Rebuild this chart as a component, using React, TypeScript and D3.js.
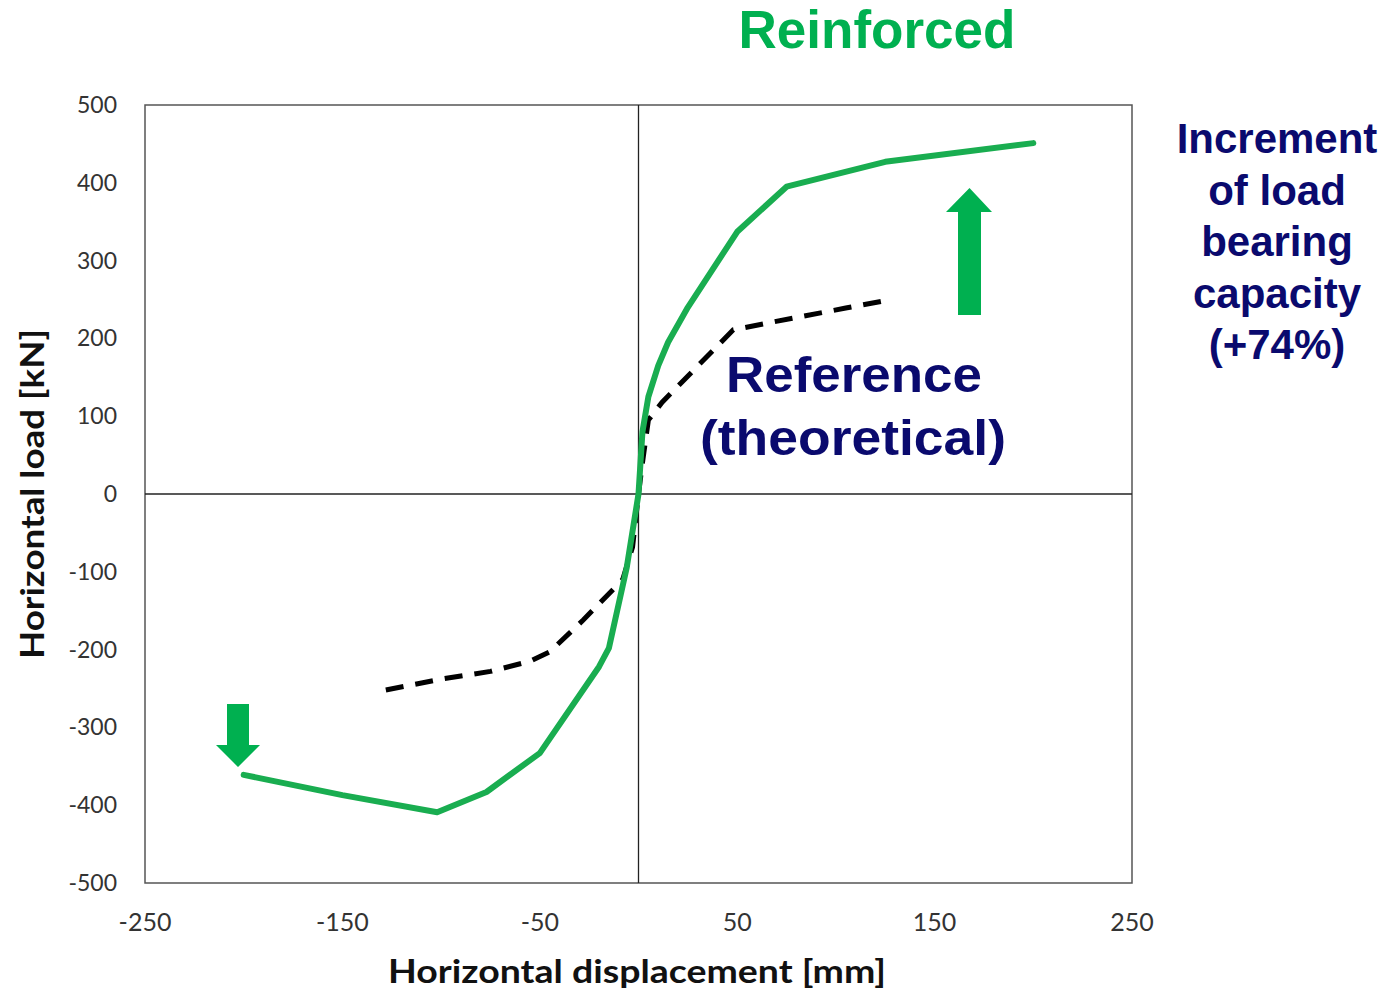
import React from "react";
import * as d3 from "d3";

const reinforcedX = [-200, -150, -102, -77, -50, -20, -15, -6, 0, 2, 5, 10, 15, 25, 50, 75, 125, 200];
const reinforcedY = [-361, -387, -409, -383, -333, -222, -198, -95, 0, 80, 125, 165, 195, 240, 337, 395, 427, 451];
const referenceX = [-128, -100, -75, -55, -45, -28, -8, -3, 0, 2, 5, 12, 48, 68, 105, 128];
const referenceY = [-252, -238, -228, -215, -203, -162, -110, -68, 0, 40, 95, 118, 211, 221, 239, 250];
const xTicks = [-250, -150, -50, 50, 150, 250];
const yTicks = [-500, -400, -300, -200, -100, 0, 100, 200, 300, 400, 500];
const noteLines = ["Increment", "of load", "bearing", "capacity", "(+74%)"];

const W = 1391, H = 992;
const M = { left: 145, right: 1132, top: 105, bottom: 883 };

export default function App() {
  const x = d3.scaleLinear().domain([-250, 250]).range([M.left, M.right]);
  const y = d3.scaleLinear().domain([-500, 500]).range([M.bottom, M.top]);
  const line = d3.line<[number, number]>().x(d => x(d[0])).y(d => y(d[1]));
  const green = "#19AD50";
  const navy = "#0A0A6E";
  const reinf: [number, number][] = reinforcedX.map((v, i) => [v, reinforcedY[i]]);
  const ref: [number, number][] = referenceX.map((v, i) => [v, referenceY[i]]);
  const tickFont = "Lato, 'Open Sans', sans-serif";
  const boldFont = "'Liberation Sans', Arial, sans-serif";
  return (
    <svg width={W} height={H} style={{ position: "absolute", left: 0, top: 0, background: "#fff" }}>
      <rect x={M.left} y={M.top} width={M.right - M.left} height={M.bottom - M.top} fill="none" stroke="#555" strokeWidth={1.5} />
      <line x1={x(0)} x2={x(0)} y1={M.top} y2={M.bottom} stroke="#222" strokeWidth={1.3} />
      <line x1={M.left} x2={M.right} y1={y(0)} y2={y(0)} stroke="#222" strokeWidth={1.3} />
      {yTicks.map(t => (
        <text key={t} x={117} y={y(t)} dy="0.35em" textAnchor="end" fontFamily={tickFont} fontSize={23} fill="#333">{t}</text>
      ))}
      {xTicks.map(t => (
        <text key={t} x={x(t)} y={922} dy="0.35em" textAnchor="middle" fontFamily={tickFont} fontSize={25} fill="#333">{t}</text>
      ))}
      <text transform={`translate(44,494) rotate(-90)`} textAnchor="middle" fontFamily={tickFont} fontWeight="bold" fontSize={32} fill="#111" textLength={330} lengthAdjust="spacingAndGlyphs">Horizontal load [kN]</text>
      <text x={637} y={983} textAnchor="middle" fontFamily={tickFont} fontWeight="bold" fontSize={33} fill="#111" textLength={498} lengthAdjust="spacingAndGlyphs">Horizontal displacement [mm]</text>
      <path d={line(ref) || ""} fill="none" stroke="#000" strokeWidth={5} strokeDasharray="18 12" />
      <path d={line(reinf) || ""} fill="none" stroke={green} strokeWidth={6} strokeLinejoin="round" strokeLinecap="round" />
      {/* up arrow */}
      <path d="M958,315 L981,315 L981,212 L992,212 L969.5,188 L946,212 L958,212 Z" fill="#00B050" />
      {/* down arrow */}
      <path d="M227,704 L249,704 L249,745 L260,745 L238,767 L216,745 L227,745 Z" fill="#00B050" />
      <text x={877} y={48} textAnchor="middle" fontFamily={boldFont} fontWeight="bold" fontSize={54} fill="#00B050" textLength={277} lengthAdjust="spacingAndGlyphs">Reinforced</text>
      <text x={854} y={392} textAnchor="middle" fontFamily={boldFont} fontWeight="bold" fontSize={50} fill={navy} textLength={256} lengthAdjust="spacingAndGlyphs">Reference</text>
      <text x={853} y={455} textAnchor="middle" fontFamily={boldFont} fontWeight="bold" fontSize={50} fill={navy} textLength={306} lengthAdjust="spacingAndGlyphs">(theoretical)</text>
      {noteLines.map((s, i) => (
        <text key={s} x={1277} y={153 + i * 51.5} textAnchor="middle" fontFamily={boldFont} fontWeight="bold" fontSize={42} fill={navy}>{s}</text>
      ))}
    </svg>
  );
}
